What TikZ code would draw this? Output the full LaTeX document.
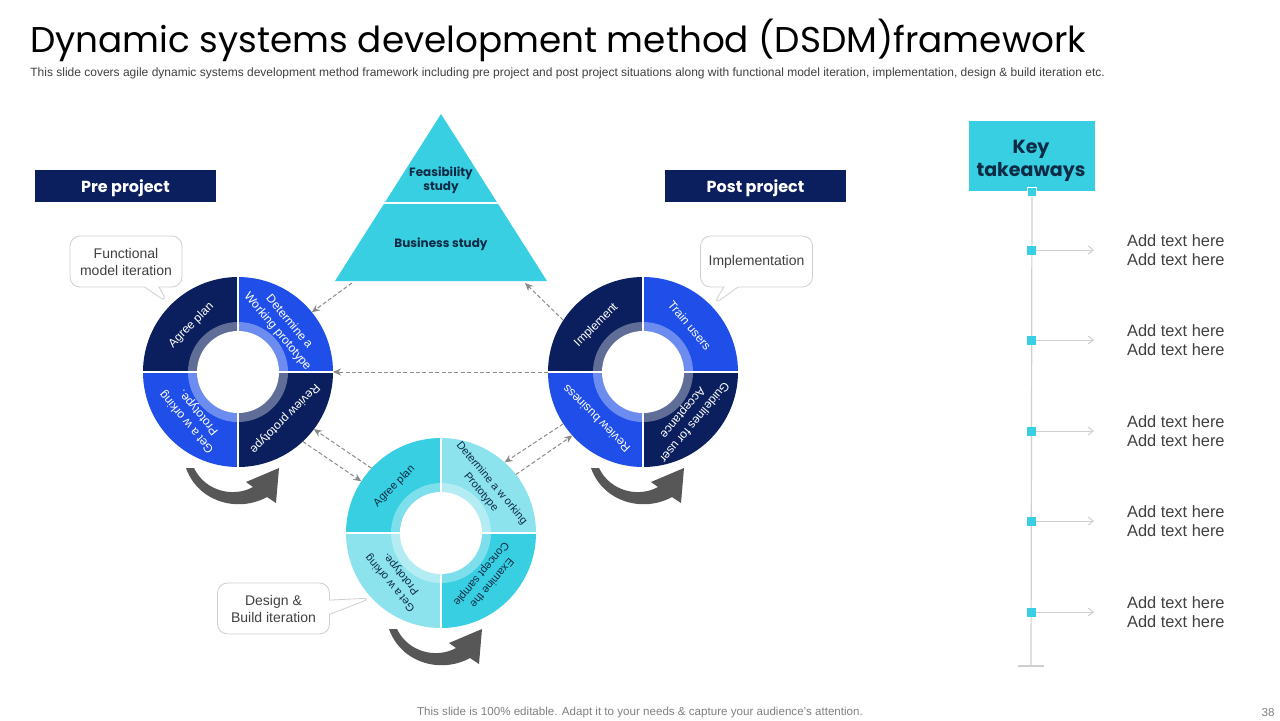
\documentclass[tikz,border=0pt]{standalone}
\usepackage{fontspec}
\setmainfont{Liberation Sans}
\newfontfamily\gothic{Poppins}
\usetikzlibrary{arrows.meta,shapes.callouts}

\definecolor{navy}{HTML}{0B1F5E}
\definecolor{royal}{HTML}{1F4FE8}
\definecolor{aqua}{HTML}{37CFE1}
\definecolor{paleaqua}{HTML}{8CE3EE}
\definecolor{ink}{HTML}{0D2B45}
\definecolor{txtgray}{HTML}{404040}
\definecolor{linegray}{HTML}{CFCFCF}
\definecolor{dashgray}{HTML}{8A8A8A}
\definecolor{arrowgray}{HTML}{575757}

\tikzset{
  wheel/.style={circle,minimum size=95pt,inner sep=0pt,outer sep=0pt},
  segtext/.style={font=\fontsize{6}{7.6}\selectfont,text=white,align=center,inner sep=0pt},
  segdark/.style={segtext,text=ink,font=\fontsize{5.5}{7}\selectfont},
  headbox/.style={fill=navy,text=white,minimum width=90.5pt,minimum height=16pt,
    text height=7pt,text depth=1pt,font=\gothic\bfseries\fontsize{8}{10}\selectfont},
  callbox/.style={rectangle callout,draw=linegray,fill=white,rounded corners=5pt,
    minimum width=56pt,minimum height=25.5pt,align=center,text=txtgray,
    font=\fontsize{7}{8.5}\selectfont},
  flow/.style={dashgray,dash pattern=on 2pt off 1.2pt,line width=0.5pt,
    -{Stealth[length=4pt,width=3.5pt]}},
  keydot/.style={fill=aqua,minimum size=4.5pt,inner sep=0pt},
  keyarrow/.style={linegray,line width=0.5pt,-{Straight Barb[length=2.5pt,width=4pt]}},
  addtext/.style={align=left,text=txtgray,font=\fontsize{8.2}{9.5}\selectfont},
  pics/wheelsegs/.style n args={4}{code={
    \fill[#1] (0,0) -- (180:95) arc (180:90:95) -- cycle;
    \fill[#2] (0,0) -- (90:95) arc (90:0:95) -- cycle;
    \fill[#3] (0,0) -- (180:95) arc (180:270:95) -- cycle;
    \fill[#4] (0,0) -- (270:95) arc (270:360:95) -- cycle;
    \fill[white,opacity=0.35] (0,0) circle (50);
    \fill[white] (0,0) circle (41);
    \draw[white,line width=1.2pt] (-96,0) -- (96,0) (0,96) -- (0,-96);
  }},
  pics/bentarrow/.style={code={
    \fill[arrowgray] (-52,-96) .. controls (-40,-130) and (0,-141) .. (29,-125)
      -- (38,-131) -- (41,-96) -- (8,-110) -- (15,-115)
      .. controls (-5,-126) and (-33,-119) .. (-44,-96) -- cycle;
  }},
}

\begin{document}
\begin{tikzpicture}[x=0.5pt,y=0.5pt]
  \useasboundingbox[fill=white] (0,0) rectangle (1280,-720);
  % titulo
  \node[anchor=base west,inner sep=0pt,font=\gothic\fontsize{17.9}{22}\selectfont] (title) at (30,-52)
    {Dynamic systems development method (DSDM)framework};
  \node[anchor=base west,inner sep=0pt,text=txtgray,font=\fontsize{6}{7}\selectfont] (subtitle) at (30,-76)
    {This slide covers agile dynamic systems development method framework including pre project and post project situations along with functional model iteration, implementation, design \& build iteration etc.};
  % cabeceras
  \node[headbox] (pre) at (125.5,-186) {Pre project};
  \node[headbox] (post) at (755.5,-186) {Post project};
  % piramide
  \fill[aqua] (441,-114) -- (547,-281) -- (335,-281) -- cycle;
  \draw[white,line width=0.8pt] (383,-203) -- (499,-203);
  \node[font=\gothic\bfseries\fontsize{6}{7}\selectfont,text=ink,align=center] (feas) at (441,-180) {Feasibility\\study};
  \node[font=\gothic\bfseries\fontsize{6}{7}\selectfont,text=ink] (bus) at (441,-244) {Business study};
  \coordinate (tb1) at (352,-283);
  \coordinate (tb2) at (525,-283);
  % globos
  \node[callbox,callout absolute pointer={(168,-303)}] (fmi) at (126,-261.5) {Functional\\model iteration};
  \node[callbox,callout absolute pointer={(713,-305)}] (impl) at (756.5,-261.5) {Implementation};
  \node[callbox,callout absolute pointer={(372,-598)}] (dbi) at (273.5,-608.5) {Design \&\\Build iteration};
  % ruedas
  \pic at (238,-372) {wheelsegs={navy}{royal}{royal}{navy}};
  \pic at (643,-372) {wheelsegs={navy}{royal}{royal}{navy}};
  \pic at (441,-533) {wheelsegs={aqua}{paleaqua}{paleaqua}{aqua}};
  \node[wheel] (lw) at (238,-372) {};
  \node[wheel] (rw) at (643,-372) {};
  \node[wheel] (bw) at (441,-533) {};
  % textos rueda izquierda
  \node[segtext,rotate=45] (lw1) at ([shift={(135:66)}]lw.center) {Agree plan};
  \node[segtext,rotate=-50] (lw2) at ([shift={(45:64)}]lw.center) {Determine a\\Working prototype};
  \node[segtext,rotate=-135] (lw3) at ([shift={(-45:66)}]lw.center) {Review prototype};
  \node[segtext,rotate=130] (lw4) at ([shift={(-135:64)}]lw.center) {Get a w orking\\Prototype.};
  % textos rueda derecha
  \node[segtext,rotate=45] (rw1) at ([shift={(135:66)}]rw.center) {Implement};
  \node[segtext,rotate=-50] (rw2) at ([shift={(45:66)}]rw.center) {Train users};
  \node[segtext,rotate=-130] (rw3) at ([shift={(-45:64)}]rw.center) {Guidelines for user\\Acceptance};
  \node[segtext,rotate=135] (rw4) at ([shift={(-135:66)}]rw.center) {Review business};
  % textos rueda inferior
  \node[segdark,rotate=45] (bw1) at ([shift={(135:66)}]bw.center) {Agree plan};
  \node[segdark,rotate=-50] (bw2) at ([shift={(45:64)}]bw.center) {Determine a w orking\\Prototype};
  \node[segdark,rotate=-130] (bw3) at ([shift={(-45:64)}]bw.center) {Examine the\\Concept sample};
  \node[segdark,rotate=130] (bw4) at ([shift={(-135:64)}]bw.center) {Get a w orking\\Prototype.};
  % flechas curvas
  \pic at (238,-372) {bentarrow};
  \pic at (643,-372) {bentarrow};
  \pic at (441,-533) {bentarrow};
  % flechas discontinuas
  \draw[flow] (tb1) -- (lw.39);
  \draw[flow] (rw.147) -- (tb2);
  \draw[flow] (rw.180) -- (lw.0);
  \draw[flow] (bw.137) -- (lw.-37);
  \draw[flow] (lw.-47) -- (bw.147);
  \draw[flow] (rw.-147) -- (bw.48);
  \draw[flow] (bw.38) -- (rw.-138);
  % key takeaways
  \node[fill=aqua,minimum width=63pt,minimum height=35pt] (kt) at (1032,-156) {};
  \node[align=center,text=ink,font=\gothic\bfseries\fontsize{9.5}{11.5}\selectfont] (ktx) at (1031,-161) {Key\\takeaways};
  \coordinate (kend) at (1031,-666);
  \draw[linegray,line width=0.6pt] (kt.south) -- (kend);
  \draw[linegray,line width=0.6pt] ([xshift=-6.5pt]kend) -- ([xshift=6.5pt]kend);
  \node[keydot,draw=white,line width=0.4pt] (k0) at (kt.south) {};
  \foreach \y [count=\i] in {250,340,431,521,612} {
    \node[keydot] (k\i) at (1031,-\y) {};
    \node[addtext,anchor=west] (t\i) at (1120,-\y) {Add text here\\Add text here};
    \draw[keyarrow] (k\i) -- ([xshift=-13pt]t\i.west);
  }
  % pie
  \node[text=black!50,font=\fontsize{5.8}{7}\selectfont] (foot) at (640,-712)
    {This slide is 100\% editable. Adapt it to your needs \& capture your audience’s attention.};
  \node[text=black!50,font=\fontsize{5.8}{7}\selectfont] (page) at (1268,-712) {38};
\end{tikzpicture}
\end{document}
